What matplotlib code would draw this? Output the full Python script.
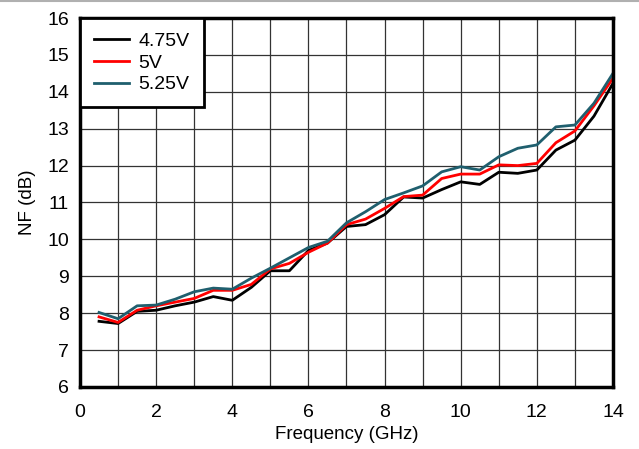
import numpy as np
import matplotlib.pyplot as plt
from matplotlib.lines import Line2D

plt.rcParams['font.family'] = ['Liberation Sans', 'DejaVu Sans']

# Datos
freq = np.arange(0.5, 14.01, 0.5)
nf_475 = [7.78, 7.72, 8.05, 8.08, 8.2, 8.3, 8.45, 8.35, 8.7, 9.15, 9.15, 9.7, 9.9, 10.35,
          10.4, 10.67, 11.15, 11.12, 11.35, 11.56, 11.49, 11.82, 11.79, 11.88, 12.42, 12.69,
          13.34, 14.23]
nf_5 = [7.9, 7.75, 8.08, 8.2, 8.3, 8.4, 8.62, 8.62, 8.78, 9.2, 9.35, 9.65, 9.9, 10.4,
        10.55, 10.84, 11.16, 11.2, 11.65, 11.77, 11.77, 12.02, 12.0, 12.06, 12.62, 12.94,
        13.62, 14.37]
nf_525 = [8.02, 7.85, 8.2, 8.22, 8.38, 8.58, 8.68, 8.65, 8.95, 9.22, 9.5, 9.78, 9.95, 10.45,
          10.75, 11.08, 11.26, 11.45, 11.83, 11.97, 11.88, 12.24, 12.47, 12.56, 13.05, 13.1,
          13.69, 14.5]

fig = plt.figure(figsize=(6.39, 4.49), dpi=100)
ax = fig.add_axes([0.1252, 0.1381, 0.8341, 0.8218])

ax.plot(freq, nf_475, color="black", lw=2, label="4.75V")
ax.plot(freq, nf_5, color="#ff0000", lw=2, label="5V")
ax.plot(freq, nf_525, color="#1f5f6e", lw=2, label="5.25V")

ax.set_xlim(0, 14)
ax.set_ylim(6, 16)
ax.set_xticks(np.arange(0, 15, 2))
ax.set_xticks(np.arange(0, 15, 1), minor=True)
ax.set_yticks(np.arange(6, 17, 1))
ax.grid(True, which="both", color="#333333", lw=0.9)
ax.set_axisbelow(True)
ax.tick_params(which="both", length=0, labelsize=14)
ax.tick_params(axis="x", pad=12)
ax.tick_params(axis="y", pad=8)
for s in ax.spines.values():
    s.set_linewidth(2.5)
    s.set_color("black")

ax.set_xlabel("Frequency (GHz)", fontsize=13.5, labelpad=4)
ax.set_ylabel("NF (dB)", fontsize=13.5, labelpad=8)

leg = ax.legend(loc="upper left", fontsize=14, frameon=True, fancybox=False,
                borderaxespad=0, handlelength=1.8, handletextpad=0.5,
                labelspacing=0.22, borderpad=0.72)
leg.get_frame().set_edgecolor("black")
leg.get_frame().set_linewidth(2)
leg.get_frame().set_alpha(1)

# línea gris superior
fig.add_artist(Line2D([0, 1], [0.998, 0.998], color="#b0b0b0", lw=1.5, transform=fig.transFigure))

fig.savefig("out.png", dpi=100)
